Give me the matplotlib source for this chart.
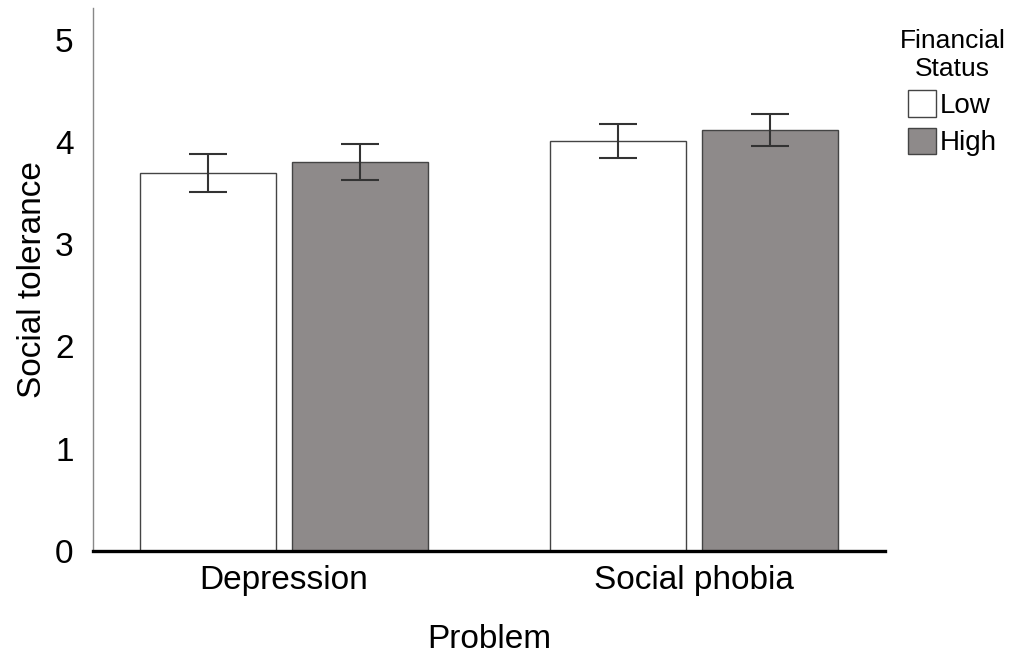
import matplotlib
matplotlib.use("Agg")
import matplotlib.pyplot as plt
import numpy as np
from matplotlib.patches import Patch

categories = ["Depression", "Social phobia"]
groups = ["Low", "High"]
low_vals = [3.70, 4.01]
high_vals = [3.80, 4.12]
low_err = [0.185, 0.165]
high_err = [0.175, 0.155]
yticks = [0, 1, 2, 3, 4, 5]

plt.rcParams['font.family'] = ['Liberation Sans', 'DejaVu Sans']

fig = plt.figure(figsize=(10.19, 6.59), dpi=100)
ax = fig.add_axes([0.0913, 0.1639, 0.8685 - 0.0913, 0.9879 - 0.1639])

x = np.arange(len(categories))
w = 0.332
off = 0.185
colors = ["white", "#8e8a8a"]
ekw = dict(ecolor="#333333", elinewidth=1.5, capsize=14, capthick=1.5)
ax.bar(x - off, low_vals, w, color=colors[0], edgecolor="#444444", linewidth=1.0,
       yerr=low_err, error_kw=ekw, zorder=2)
ax.bar(x + off, high_vals, w, color=colors[1], edgecolor="#444444", linewidth=1.0,
       yerr=high_err, error_kw=ekw, zorder=2)

ax.set_xlim(-0.466, 1.466)
ax.set_ylim(0, 5.31)
ax.set_yticks(yticks)
ax.set_yticklabels([str(t) for t in yticks])
ax.set_xticks(x)
ax.set_xticklabels(categories)
ax.tick_params(axis='both', length=0, labelsize=24)
ax.tick_params(axis='y', pad=14)
ax.tick_params(axis='x', pad=10)

for s in ["top", "right"]:
    ax.spines[s].set_visible(False)
ax.spines["left"].set_color("#888888")
ax.spines["left"].set_linewidth(1.0)
ax.spines["bottom"].set_color("black")
ax.spines["bottom"].set_linewidth(2.4)
ax.spines["bottom"].set_zorder(3)

ax.set_xlabel("Problem", fontsize=24, labelpad=20)
ax.set_ylabel("Social tolerance", fontsize=24, labelpad=5)

handles = [Patch(facecolor=colors[0], edgecolor="#444444", linewidth=1.0),
           Patch(facecolor=colors[1], edgecolor="#444444", linewidth=1.0)]
leg = fig.legend(handles, groups, title="Financial\nStatus", loc="upper center",
                 bbox_to_anchor=(0.935, 0.985), frameon=False, fontsize=20,
                 title_fontsize=19, handlelength=1.0, handleheight=1.1,
                 handletextpad=0.15, labelspacing=0.32, borderpad=0.2)
leg.get_title().set_multialignment('center')

fig.savefig("out.png", dpi=100)
